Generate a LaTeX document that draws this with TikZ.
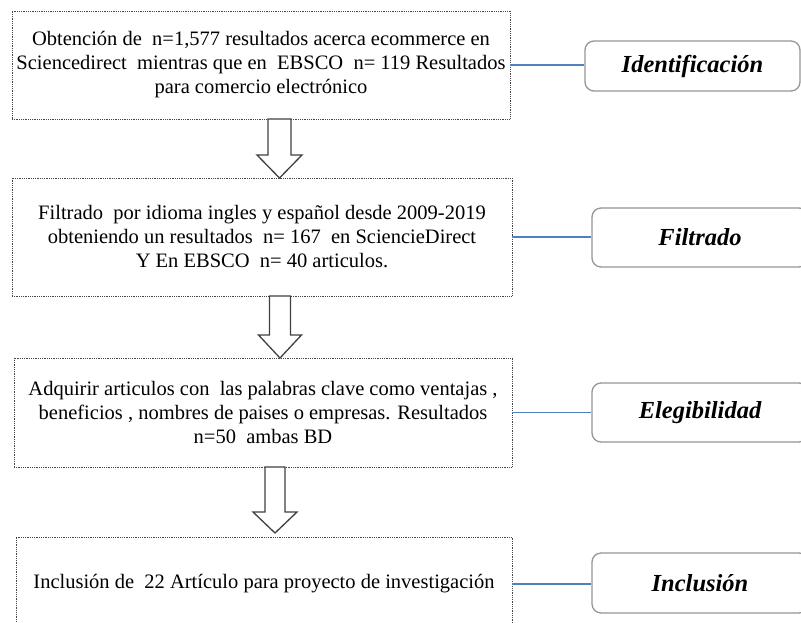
\documentclass[tikz,border=0pt]{standalone}
\usepackage{fontspec}
\setmainfont{Liberation Serif}
\definecolor{connblue}{RGB}{79,129,189}
\definecolor{boxline}{RGB}{70,70,70}
\definecolor{labline}{RGB}{150,150,150}
\definecolor{arrline}{RGB}{64,64,64}
\newcommand\blkarrow[6]{% cx, ytop, yhead, ytip, shaft half, head half
  \draw[blockarrow] ({#1-#5},#2) -- ({#1+#5},#2) -- ({#1+#5},#3) -- ({#1+#6},#3)
    -- (#1,#4) -- ({#1-#6},#3) -- ({#1-#5},#3) -- cycle;}
\begin{document}
\begin{tikzpicture}[x=1pt,y=-1pt,
  stepbox/.style={draw=boxline, line width=0.9pt, dash pattern=on 0.9pt off 0.9pt,
    rectangle, inner sep=0pt, align=center, font=\fontsize{20.5}{24}\selectfont},
  labbox/.style={draw=labline, line width=1.3pt, rounded corners=9pt, rectangle,
    inner sep=0pt, font=\fontsize{24.5}{28}\selectfont\bfseries\itshape},
  conn/.style={draw=connblue, line width=1.3pt},
  blockarrow/.style={draw=arrline, fill=white, line width=1.3pt, line join=miter}]
\useasboundingbox (0,0) rectangle (801,622);
\clip (0,0) rectangle (801,622);
\fill[white] (0,0) rectangle (801,622);

% step boxes
\node[stepbox, minimum width=498pt, minimum height=108pt] (b1) at (261,65)
  {Obtención de \ n=1,577 resultados acerca ecommerce en\\
   Sciencedirect \ mientras que en \ EBSCO \ n= 119 Resultados\\
   para comercio electrónico};
\node[stepbox, minimum width=500pt, minimum height=118pt] (b2) at (262,237)
  {Filtrado \ por idioma ingles y español desde 2009-2019\\
   obteniendo un resultados \ n= 167 \ en SciencieDirect\\
   Y En EBSCO \ n= 40 articulos.};
\node[stepbox, minimum width=498pt, minimum height=109pt] (b3) at (263,412.5)
  {Adquirir articulos con \ las palabras clave como ventajas ,\\
   beneficios , nombres de paises o empresas. Resultados\\
   n=50 \ ambas BD};
\node[stepbox, minimum width=496pt, minimum height=94pt] (b4) at (264,584)
  {Inclusión de \ 22 Artículo para proyecto de investigación};

% label boxes
\node[labbox, minimum width=215pt, minimum height=50pt] (l1) at (692.5,66) {Identificación};
\node[labbox, minimum width=216pt, minimum height=59pt] (l2) at (700,237.5) {Filtrado};
\node[labbox, minimum width=216pt, minimum height=59pt] (l3) at (700,412.5) {Elegibilidad};
\node[labbox, minimum width=216pt, minimum height=60pt] (l4) at (700,583) {Inclusión};

% connectors
\draw[conn] (b1.east) -- (b1.east -| l1.west);
\draw[conn] (b2.east) -- (b2.east -| l2.west);
\draw[conn] (b3.east) -- (b3.east -| l3.west);
\draw[conn] (b4.east) -- (b4.east -| l4.west);

% block arrows
\blkarrow{279.5}{119}{155}{178}{11.5}{22.5}
\blkarrow{280}{296}{335}{358}{10.5}{21.5}
\blkarrow{275}{467}{512}{533}{10}{22}
\end{tikzpicture}
\end{document}
